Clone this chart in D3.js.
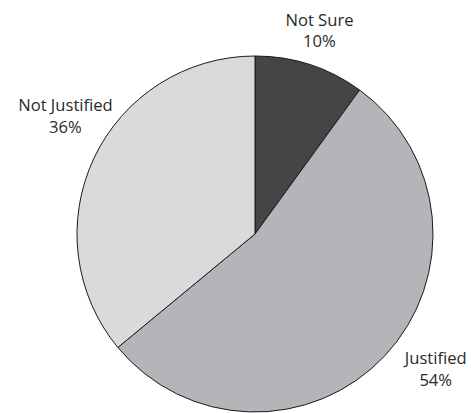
<!DOCTYPE html>
<html>
<head>
<meta charset="utf-8">
<script src="https://cdn.jsdelivr.net/npm/d3@7"></script>
<style>
  html, body { margin: 0; padding: 0; background: #fff; }
  svg { display: block; }
</style>
</head>
<body>
<svg id="chart" width="471" height="413"></svg>
<script>
// Data
const categories = ["Not Sure", "Justified", "Not Justified"];
const values = [10, 54, 36];
const colors = ["#444547", "#b4b5b8", "#d9dadc"];
// label nudges relative to label-arc centroid (layout only)
const labelNudges = [[-2, -4], [24, -17], [5, -31]];

const W = 471, H = 413;
const cx = 255, cy = 234, r = 178, labelR = 215;

const svg = d3.select("#chart");
const g = svg.append("g").attr("transform", `translate(${cx},${cy})`);

const data = categories.map((c, i) => ({ name: c, value: values[i], color: colors[i], nudge: labelNudges[i] }));

const pie = d3.pie().sort(null).value(d => d.value);
const arcs = pie(data);
const arc = d3.arc().innerRadius(0).outerRadius(r);
const labelArc = d3.arc().innerRadius(labelR).outerRadius(labelR);

g.selectAll("path.slice")
  .data(arcs)
  .enter().append("path")
  .attr("class", "slice")
  .attr("d", arc)
  .attr("fill", d => d.data.color)
  .attr("stroke", "#1a1a1a")
  .attr("stroke-width", 1)
  .attr("stroke-linejoin", "round");

const labels = g.selectAll("text.lbl")
  .data(arcs)
  .enter().append("text")
  .attr("class", "lbl")
  .attr("font-family", "'Open Sans', sans-serif")
  .attr("font-size", 16.6)
  .attr("fill", "#2a2a2a")
  .attr("text-anchor", "middle")
  .attr("transform", d => {
    const [x, y] = labelArc.centroid(d);
    return `translate(${x + d.data.nudge[0]},${y + d.data.nudge[1]})`;
  });

labels.append("tspan").attr("x", 0).attr("y", 0).text(d => d.data.name);
labels.append("tspan").attr("x", 0).attr("y", 21.5).text(d => d.data.value + "%");
</script>
</body>
</html>
